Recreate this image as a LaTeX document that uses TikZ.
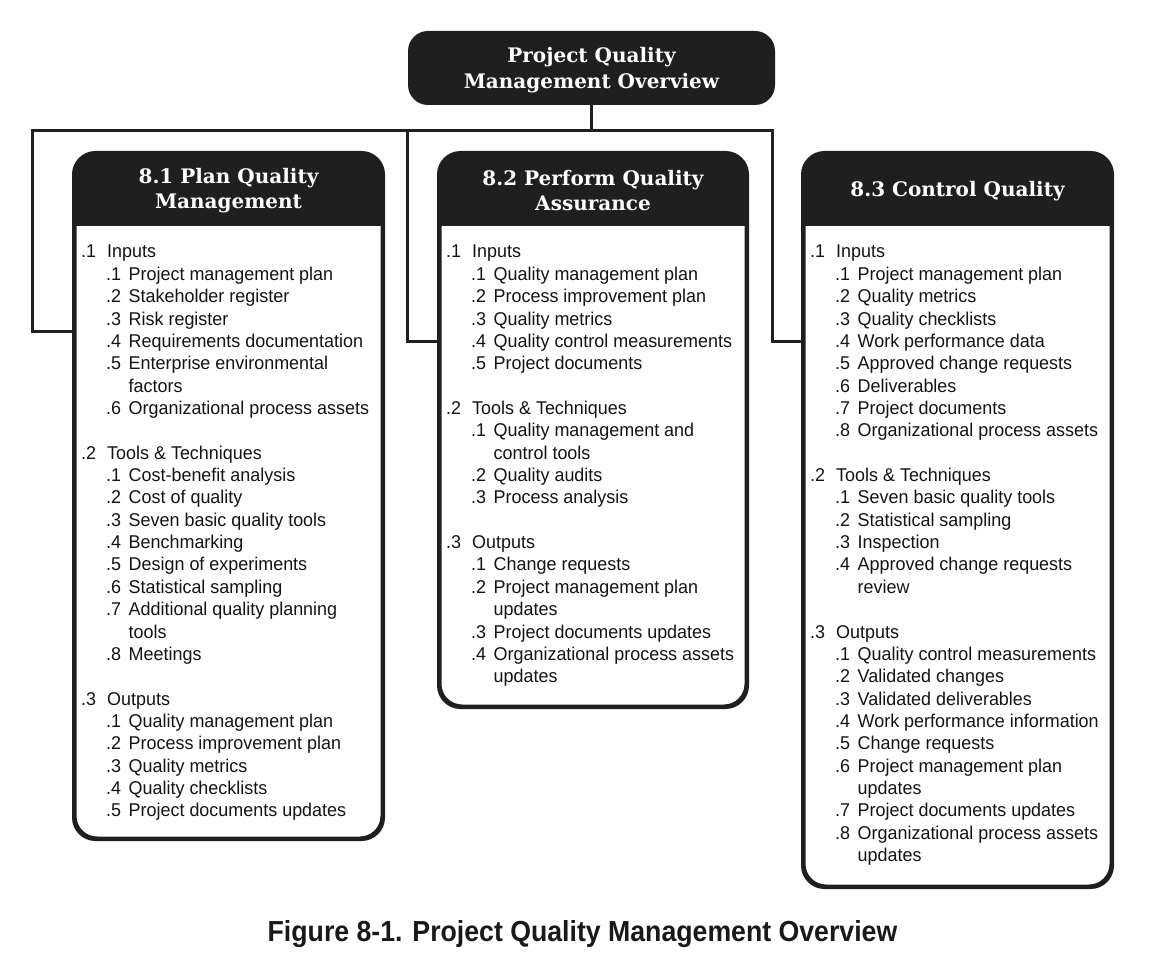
\documentclass[tikz,border=0pt]{standalone}
\usepackage{fontspec}
\setmainfont{Liberation Sans}[FakeStretch=0.97]
\newfontfamily\headfont{DejaVu Serif}
\newfontfamily\capfont{Liberation Sans}[FakeStretch=0.92]

% list helpers: level-1 entry, level-2 entry, continuation line
\newcommand{\lvA}[2]{\makebox[26pt][l]{#1}#2}
\newcommand{\lvB}[2]{\hspace*{25pt}\makebox[22.5pt][l]{#1}#2}
\newcommand{\lvC}[1]{\hspace*{47.5pt}#1}
\newcommand{\gap}{\\[22.36pt]}

\begin{document}
\begin{tikzpicture}[x=1pt,y=-1pt,
  conn/.style={line width=3pt, draw=black!88},
  panel/.style={draw=black!88, line width=3pt, rounded corners=22pt,
    fill=white, anchor=north west, inner sep=0pt},
  headbar/.style={fill=black!88},
  headtext/.style={text=white, align=center, inner sep=0pt,
    font=\headfont\bfseries\fontsize{20}{25.5}\selectfont},
  topbox/.style={fill=black!88, rounded corners=20pt,
    minimum width=367pt, minimum height=74pt, inner sep=0pt},
  body/.style={anchor=north west, align=left, inner sep=0pt,
    text=black!92, font=\fontsize{18.5}{22.36}\selectfont},
  caption/.style={anchor=base, inner sep=0pt, text=black!90,
    font=\capfont\bfseries\fontsize{29}{34}\selectfont}
]
\useasboundingbox (0,0) rectangle (1153,973);

% overview box and its title
\node[topbox] (top) at (591.5,68) {};
\node[headtext, font=\headfont\bfseries\fontsize{20}{26}\selectfont]
  (toptext) at ([yshift=-2pt]top.center) {Project Quality\\Management Overview};

% process panels (outline centred on the border, outer edge at the listed size)
\node[panel, minimum width=307pt, minimum height=684pt] (p1) at (73.5,152.5) {};
\node[panel, minimum width=306pt, minimum height=552pt] (p2) at (438.5,152.5) {};
\node[panel, minimum width=307pt, minimum height=732pt] (p3) at (802.5,152.5) {};

% dark title bars, clipped to each panel's rounded outline
\foreach \p in {p1,p2,p3}{
  \begin{scope}
    \clip[rounded corners=22pt] (\p.north west) rectangle (\p.south east);
    \fill[headbar] (\p.north west) rectangle ([yshift=-73.5pt]\p.north east);
  \end{scope}
  \draw[draw=black!88, line width=3pt, rounded corners=22pt]
    (\p.north west) rectangle (\p.south east);
}

\node[headtext] (h1) at ([yshift=-38pt]p1.north) {8.1 Plan Quality\\Management};
\node[headtext] (h2) at ([yshift=-38pt]p2.north) {8.2 Perform Quality\\Assurance};
\node[headtext] (h3) at ([yshift=-38.5pt]p3.north) {8.3 Control Quality};

% connectors
\coordinate (jL) at (32,131);
\coordinate (jM) at (407,131);
\coordinate (jR) at (772,131);
\coordinate (k1) at (32,332);
\coordinate (k2) at (407,341);
\coordinate (k3) at (772,341);
\draw[conn] (top.south) -- (top.south |- jL);
\draw[conn, line cap=rect] (jL) -- (jR);
\draw[conn, line join=miter] (jL) -- (k1) -- (k1 -| p1.west);
\draw[conn, line join=miter] (jM) -- (k2) -- (k2 -| p2.west);
\draw[conn, line join=miter] (jR) -- (k3) -- (k3 -| p3.west);

% panel contents
\node[body] (b1) at (81,245) {%
\lvA{.1}{Inputs}\\
\lvB{.1}{Project management plan}\\
\lvB{.2}{Stakeholder register}\\
\lvB{.3}{Risk register}\\
\lvB{.4}{Requirements documentation}\\
\lvB{.5}{Enterprise environmental}\\
\lvC{factors}\\
\lvB{.6}{Organizational process assets}\gap
\lvA{.2}{Tools \& Techniques}\\
\lvB{.1}{Cost-benefit analysis}\\
\lvB{.2}{Cost of quality}\\
\lvB{.3}{Seven basic quality tools}\\
\lvB{.4}{Benchmarking}\\
\lvB{.5}{Design of experiments}\\
\lvB{.6}{Statistical sampling}\\
\lvB{.7}{Additional quality planning}\\
\lvC{tools}\\
\lvB{.8}{Meetings}\gap
\lvA{.3}{Outputs}\\
\lvB{.1}{Quality management plan}\\
\lvB{.2}{Process improvement plan}\\
\lvB{.3}{Quality metrics}\\
\lvB{.4}{Quality checklists}\\
\lvB{.5}{Project documents updates}};

\node[body] (b2) at (446,245) {%
\lvA{.1}{Inputs}\\
\lvB{.1}{Quality management plan}\\
\lvB{.2}{Process improvement plan}\\
\lvB{.3}{Quality metrics}\\
\lvB{.4}{Quality control measurements}\\
\lvB{.5}{Project documents}\gap
\lvA{.2}{Tools \& Techniques}\\
\lvB{.1}{Quality management and}\\
\lvC{control tools}\\
\lvB{.2}{Quality audits}\\
\lvB{.3}{Process analysis}\gap
\lvA{.3}{Outputs}\\
\lvB{.1}{Change requests}\\
\lvB{.2}{Project management plan}\\
\lvC{updates}\\
\lvB{.3}{Project documents updates}\\
\lvB{.4}{Organizational process assets}\\
\lvC{updates}};

\node[body] (b3) at (810,245) {%
\lvA{.1}{Inputs}\\
\lvB{.1}{Project management plan}\\
\lvB{.2}{Quality metrics}\\
\lvB{.3}{Quality checklists}\\
\lvB{.4}{Work performance data}\\
\lvB{.5}{Approved change requests}\\
\lvB{.6}{Deliverables}\\
\lvB{.7}{Project documents}\\
\lvB{.8}{Organizational process assets}\gap
\lvA{.2}{Tools \& Techniques}\\
\lvB{.1}{Seven basic quality tools}\\
\lvB{.2}{Statistical sampling}\\
\lvB{.3}{Inspection}\\
\lvB{.4}{Approved change requests}\\
\lvC{review}\gap
\lvA{.3}{Outputs}\\
\lvB{.1}{Quality control measurements}\\
\lvB{.2}{Validated changes}\\
\lvB{.3}{Validated deliverables}\\
\lvB{.4}{Work performance information}\\
\lvB{.5}{Change requests}\\
\lvB{.6}{Project management plan}\\
\lvC{updates}\\
\lvB{.7}{Project documents updates}\\
\lvB{.8}{Organizational process assets}\\
\lvC{updates}};

% caption
\node[caption] (cap) at (582.5,941) {Figure 8-1. Project Quality Management Overview};
\end{tikzpicture}
\end{document}
